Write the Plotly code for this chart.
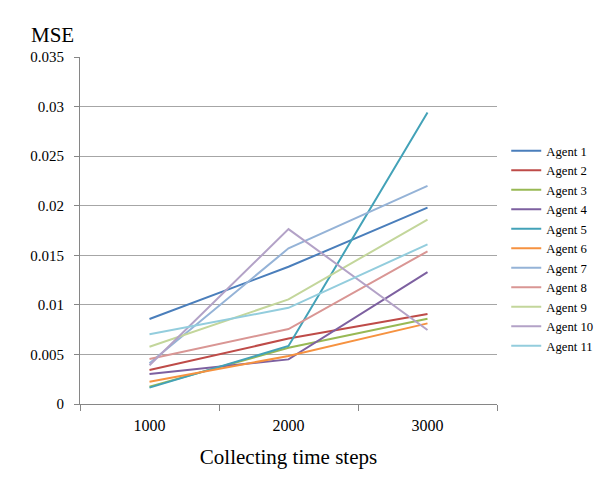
import plotly.graph_objects as go

categories = ["1000", "2000", "3000"]
agent_names = ["Agent 1", "Agent 2", "Agent 3", "Agent 4", "Agent 5", "Agent 6",
               "Agent 7", "Agent 8", "Agent 9", "Agent 10", "Agent 11"]
agent1 = [0.00857, 0.01384, 0.0198]
agent2 = [0.00343, 0.0066, 0.00907]
agent3 = [0.00175, 0.00567, 0.0086]
agent4 = [0.00302, 0.0045, 0.0133]
agent5 = [0.00165, 0.00585, 0.0294]
agent6 = [0.00225, 0.00484, 0.00813]
agent7 = [0.0041, 0.0157, 0.0220]
agent8 = [0.00454, 0.00756, 0.0154]
agent9 = [0.00578, 0.01055, 0.0186]
agent10 = [0.0039, 0.01764, 0.00746]
agent11 = [0.00703, 0.0097, 0.0161]
series = [agent1, agent2, agent3, agent4, agent5, agent6, agent7, agent8, agent9, agent10, agent11]
y_ticks = [0, 0.005, 0.01, 0.015, 0.02, 0.025, 0.03, 0.035]
y_tick_labels = ["0", "0.005", "0.01", "0.015", "0.02", "0.025", "0.03", "0.035"]

colors = ["#4A7EBB", "#BE4B48", "#98B954", "#7D60A0", "#43A2B8", "#F69240",
          "#95B3D7", "#D99694", "#C3D69B", "#B3A2C7", "#93CDDD"]

font = "Liberation Serif"

fig = go.Figure()
for name, vals, c in zip(agent_names, series, colors):
    fig.add_trace(go.Scatter(x=categories, y=vals, mode="lines", name=name,
                             line=dict(color=c, width=2)))

fig.update_layout(
    width=607, height=490,
    margin=dict(l=80, r=110, t=57, b=86, autoexpand=False),
    paper_bgcolor="white", plot_bgcolor="white",
    font=dict(family=font, size=15, color="black"),
    showlegend=True,
    legend=dict(xref="container", yref="container", x=0.834, y=0.493,
                xanchor="left", yanchor="middle",
                font=dict(family=font, size=12.7, color="black"),
                tracegroupgap=0, itemwidth=30, bgcolor="rgba(0,0,0,0)"),
    xaxis=dict(type="category", range=[-0.5, 2.5], tickson="boundaries",
               ticks="outside", ticklen=6, tickcolor="#868686",
               showline=True, linecolor="#868686", linewidth=1,
               showgrid=False, tickfont=dict(family=font, size=16, color="black"),
               ticklabelstandoff=7, automargin=False,
               title=dict(text="Collecting time steps", font=dict(family=font, size=21, color="black"), standoff=16)),
    yaxis=dict(range=[0, 0.035], tickvals=y_ticks, ticktext=y_tick_labels,
               ticks="outside", ticklen=5, tickcolor="#868686",
               showline=True, linecolor="#868686", linewidth=1,
               showgrid=True, gridcolor="#A6A6A6", gridwidth=1,
               zeroline=False, tickfont=dict(family=font, size=15, color="black"),
               ticklabelstandoff=7, automargin=False),
    annotations=[dict(text="MSE", xref="paper", yref="paper", x=-0.067, y=1.063,
                      xanchor="center", yanchor="middle", showarrow=False,
                      font=dict(family=font, size=21, color="black"))],
)

fig.write_html("out.html", config={"displayModeBar": False},
               post_script="document.body.style.margin='0';")
